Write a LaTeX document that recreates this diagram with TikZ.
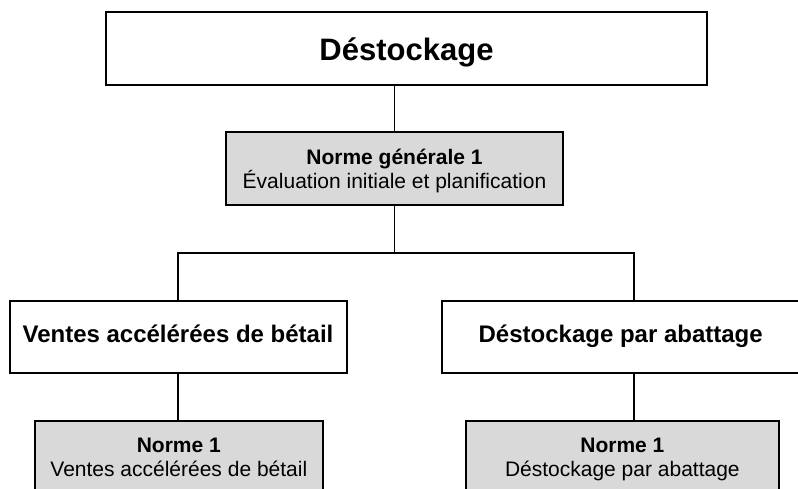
\documentclass[tikz,border=0pt]{standalone}
\usepackage{fontspec}
\setmainfont{Liberation Sans}
\definecolor{boxgray}{RGB}{217,217,217}
% struts that fix the vertical position of the text lines
\newcommand{\mytopst}{\rule{0pt}{22pt}}
\newcommand{\mybotst}{\rule[-7pt]{0pt}{7pt}}
\newcommand{\myheadst}{\rule[-9.1pt]{0pt}{29.1pt}}
\newcommand{\mytitlest}{\rule[-4.1pt]{0pt}{34.1pt}}
\begin{document}
\begin{tikzpicture}[x=1pt,y=-1pt,
  box/.style={draw=black, line width=2pt, fill=white, inner sep=0pt, align=center},
  graybox/.style={box, fill=boxgray},
  link/.style={draw=black, line width=1.3pt},
  titlefont/.style={font=\fontsize{31}{36}\selectfont\bfseries},
  headfont/.style={font=\fontsize{24}{28}\selectfont\bfseries},
  normfont/.style={font=\fontsize{21}{24.2}\selectfont}]
\useasboundingbox (0,0) rectangle (798,489);
\clip (0,0) rectangle (798,489);

% main heading
\node[box, titlefont, minimum width=601pt, minimum height=72.5pt] (top) at (406.5,48.75)
  {\mytitlest Déstockage};

% general standard
\node[graybox, normfont, minimum width=337pt, minimum height=72.5pt] (gen) at (394.5,168.75)
  {\mytopst\textbf{Norme générale 1}\\Évaluation initiale et planification\mybotst};

% two branches
\node[box, headfont, minimum width=337pt, minimum height=72.3pt] (ventes) at (178,336.85)
  {\myheadst Ventes accélérées de bétail};
\node[box, headfont, minimum width=358pt, minimum height=72.3pt] (abat) at (620.7,336.85)
  {\myheadst Déstockage par abattage};

% standards under each branch
\node[graybox, normfont, minimum width=287.7pt, minimum height=72.5pt] (nv) at (178.85,457.25)
  {\mytopst\textbf{Norme 1}\\Ventes accélérées de bétail\mybotst};
\node[graybox, normfont, minimum width=313.3pt, minimum height=72.5pt] (na) at (622.35,457.25)
  {\mytopst\textbf{Norme 1}\\Déstockage par abattage\mybotst};

% junction points of the connectors
\coordinate (split) at (394.5,253);
\coordinate (abtop) at (634,300.7);
\coordinate (abbot) at (634,373);

\path[link] (gen.north) -- (gen.north |- top.south);
\path[link] (gen.south) -- (split);
\path[link] (split) -| (ventes.north);
\path[link] (split) -| (abtop);
\path[link] (ventes.south) -- (ventes.south |- nv.north);
\path[link] (abbot) -- (abbot |- na.north);
\end{tikzpicture}
\end{document}
